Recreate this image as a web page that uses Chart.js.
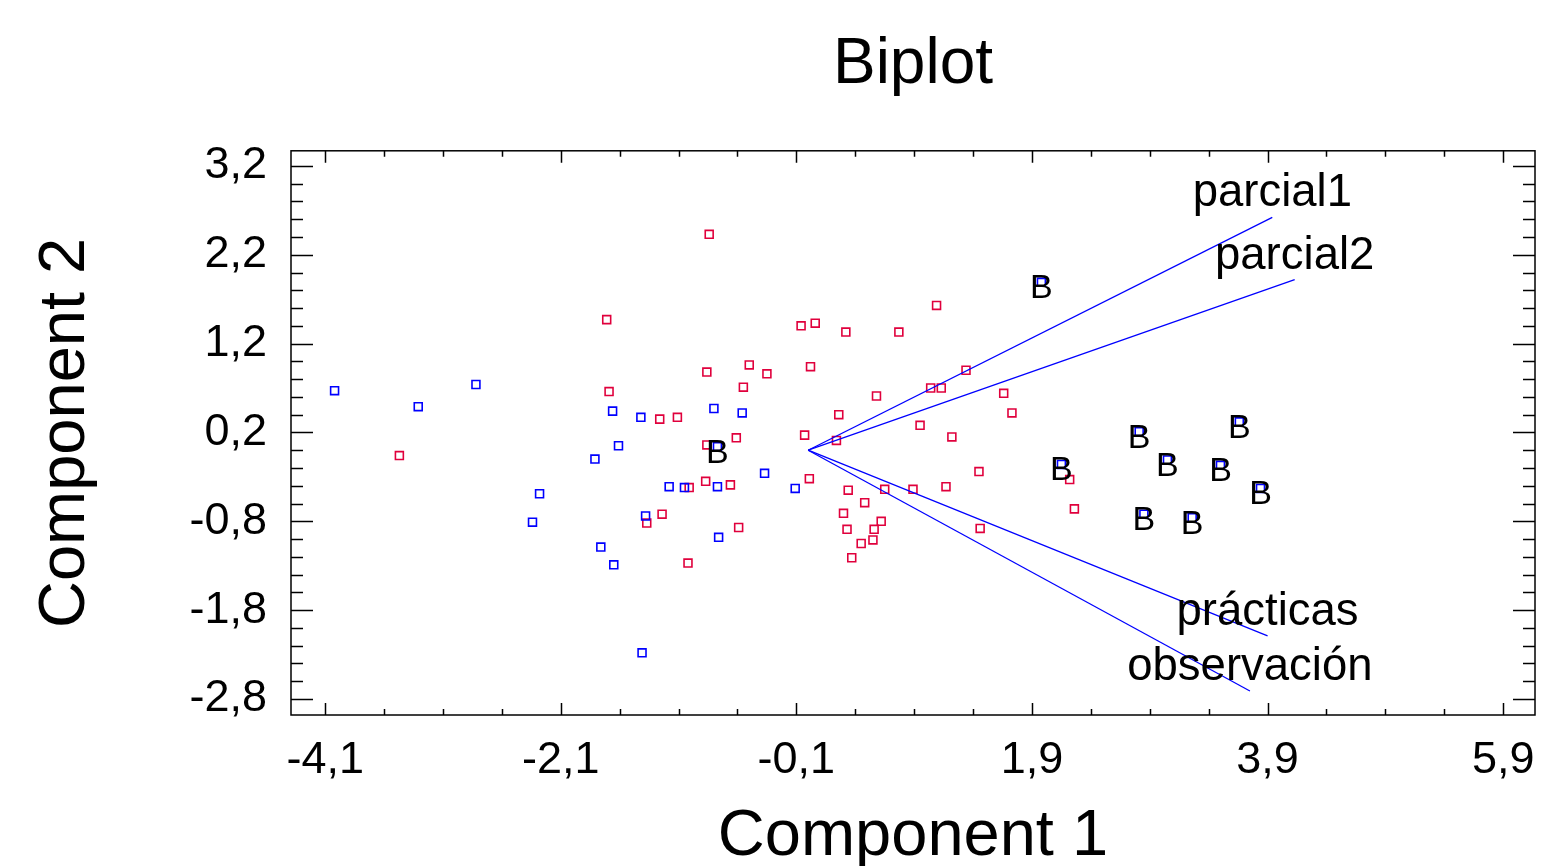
<!DOCTYPE html>
<html>
<head>
<meta charset="utf-8">
<title>Biplot</title>
<script src="https://cdn.jsdelivr.net/npm/chart.js@4.4.0/dist/chart.umd.min.js"></script>
<style>
  html, body { margin: 0; padding: 0; background: #fff; }
  #wrap { width: 1554px; height: 866px; }
</style>
</head>
<body>
<div id="wrap"><canvas id="biplot"></canvas></div>
<script>
// scores (component 1, component 2)
const blueX = [-4.02, -3.31, -2.82, -2.28, -2.34, -1.81, -1.76, -1.65, -1.66, -1.61, -1.42,
  -1.38, -1.41, -1.18, -1.05, -0.80, -0.77, -0.76, -0.56, -0.37, -0.11, -0.77,
  1.98, 2.81, 3.66, 2.15, 3.05, 3.50, 3.84, 2.85, 3.26];
const blueY = [0.67, 0.49, 0.74, -0.49, -0.81, -0.10, -1.09, -1.29, 0.44, 0.05, 0.37,
  -0.74, -2.28, -0.41, -0.42, 0.47, -0.41, -0.98, 0.42, -0.26, -0.43, 0.04,
  1.89, 0.21, 0.32, -0.16, -0.11, -0.17, -0.43, -0.72, -0.76];
const blueTag = ["", "", "", "", "", "", "", "", "", "", "",
  "", "", "", "", "", "", "", "", "", "", "B",
  "B", "B", "B", "B", "B", "B", "B", "B", "B"];

const redX = [-3.47, -1.71, -1.69, -1.26, -1.11, -0.84, -0.86, -0.50, -0.55, -0.35, -0.61,
  -0.86, -0.87, -0.66, -1.01, -1.24, -1.37, -0.59, -1.02, -0.06, 0.06, 0.32,
  0.77, 1.09, 0.02, 1.34, 1.04, 1.13, 0.58, 1.66, 1.73, 0.26, 0.95,
  -0.03, 0.24, 1.22, 0.01, 1.45, 0.34, 0.65, 0.89, 1.17, 0.48, 0.30,
  0.62, 0.33, 0.56, 1.46, 0.55, 0.45, 0.37, 2.22, 2.26];
const redY = [-0.06, 1.47, 0.66, 0.35, 0.37, 2.43, 0.88, 0.96, 0.71, 0.86, 0.14,
  0.06, -0.35, -0.39, -0.42, -0.72, -0.82, -0.87, -1.27, 1.40, 1.43, 1.33,
  1.33, 1.63, 0.94, 0.90, 0.70, 0.70, 0.61, 0.64, 0.42, 0.40, 0.28,
  0.17, 0.11, 0.15, -0.32, -0.24, -0.45, -0.44, -0.44, -0.41, -0.59, -0.71,
  -0.80, -0.89, -0.89, -0.88, -1.01, -1.05, -1.21, -0.33, -0.66];

const vectorNames = ["parcial1", "parcial2", "prácticas", "observación"];
const vectorX = [3.94, 4.13, 3.90, 3.75];
const vectorY = [2.62, 1.92, -2.09, -2.71];

const xTickLabels = [-4.1, -2.1, -0.1, 1.9, 3.9, 5.9];
const yTickLabels = [-2.8, -1.8, -0.8, 0.2, 1.2, 2.2, 3.2];
const xMinorStep = 0.5;
const yMinorStep = 0.2;

const FONT = "'Liberation Sans', Arial, sans-serif";
const BLUE = "#0000ff";
const RED = "#e0003c";

const fmt = (v) => (Math.round(v * 10) / 10).toFixed(1).replace(".", ",");

// ticks inside the frame, on all four sides, plus the text marks
const frameAndLabels = {
  id: "frameAndLabels",
  afterDatasetsDraw(chart) {
    const { ctx, chartArea: a, scales } = chart;
    const sx = scales.x, sy = scales.y;
    ctx.save();
    ctx.strokeStyle = "#000";
    ctx.lineWidth = 1.5;
    ctx.strokeRect(a.left, a.top, a.right - a.left, a.bottom - a.top);

    ctx.beginPath();
    const xEvery = Math.round((xTickLabels[1] - xTickLabels[0]) / xMinorStep);
    for (let i = -20; i < 200; i++) {
      const v = xTickLabels[0] + i * xMinorStep;
      if (v < sx.min || v > sx.max) continue;
      const px = Math.round(sx.getPixelForValue(v)) + 0.5;
      const len = (i % xEvery === 0) ? 12 : 6;
      ctx.moveTo(px, a.bottom); ctx.lineTo(px, a.bottom - len);
      ctx.moveTo(px, a.top); ctx.lineTo(px, a.top + len);
    }
    const yEvery = Math.round((yTickLabels[1] - yTickLabels[0]) / yMinorStep);
    for (let i = -20; i < 200; i++) {
      const v = yTickLabels[0] + i * yMinorStep;
      if (v < sy.min || v > sy.max) continue;
      const py = Math.round(sy.getPixelForValue(v)) + 0.5;
      const len = (i % yEvery === 0) ? 22 : 12;
      ctx.moveTo(a.left, py); ctx.lineTo(a.left + len, py);
      ctx.moveTo(a.right, py); ctx.lineTo(a.right - len, py);
    }
    ctx.stroke();

    ctx.fillStyle = "#000";
    ctx.textAlign = "center";
    ctx.textBaseline = "alphabetic";
    ctx.font = "34px " + FONT;
    blueX.forEach((bx, i) => {
      if (!blueTag[i]) return;
      ctx.fillText(blueTag[i], sx.getPixelForValue(bx), sy.getPixelForValue(blueY[i]) + 16);
    });

    ctx.font = "45.5px " + FONT;
    vectorNames.forEach((name, i) => {
      ctx.fillText(name, sx.getPixelForValue(vectorX[i]), sy.getPixelForValue(vectorY[i]) - 11);
    });
    ctx.restore();
  }
};

const vectorSets = vectorNames.map((name, i) => ({
  label: name,
  data: [{ x: 0, y: 0 }, { x: vectorX[i], y: vectorY[i] }],
  showLine: true,
  borderColor: BLUE,
  borderWidth: 1.3,
  pointRadius: 0,
  pointHoverRadius: 0
}));

const pointStyle = (color) => ({
  pointStyle: "rect",
  pointRadius: 5.6,
  pointHoverRadius: 5.6,
  borderWidth: 1.6,
  borderColor: color,
  backgroundColor: "rgba(0,0,0,0)"
});

new Chart(document.getElementById("biplot"), {
  type: "scatter",
  data: {
    datasets: [
      ...vectorSets,
      { label: "A", data: blueX.map((x, i) => ({ x, y: blueY[i] })), ...pointStyle(BLUE) },
      { label: "B", data: redX.map((x, i) => ({ x, y: redY[i] })), ...pointStyle(RED) }
    ]
  },
  options: {
    responsive: true,
    maintainAspectRatio: false,
    animation: false,
    devicePixelRatio: 1,
    layout: { padding: { left: 0, right: 19, top: 0, bottom: 0 } },
    plugins: {
      legend: { display: false },
      tooltip: { enabled: false },
      title: {
        display: true,
        text: "Biplot",
        fullSize: false,
        color: "#000",
        font: { family: FONT, size: 64, weight: "normal" },
        padding: { top: 27, bottom: 47 }
      }
    },
    scales: {
      x: {
        type: "linear",
        min: -4.39,
        max: 6.17,
        afterBuildTicks: (s) => { s.ticks = xTickLabels.map((v) => ({ value: v })); },
        afterFit: (s) => { s.height = 151; },
        grid: { display: false, drawTicks: false },
        border: { display: false },
        ticks: {
          color: "#000",
          font: { family: FONT, size: 45 },
          padding: 19,
          autoSkip: false,
          maxRotation: 0,
          callback: (v) => fmt(v)
        },
        title: {
          display: true,
          text: "Component 1",
          color: "#000",
          font: { family: FONT, size: 65, lineHeight: 0.9 },
          padding: { top: 0, bottom: 0 }
        }
      },
      y: {
        type: "linear",
        min: -2.98,
        max: 3.37,
        afterBuildTicks: (s) => { s.ticks = yTickLabels.map((v) => ({ value: v })); },
        afterFit: (s) => { s.width = 291; },
        grid: { display: false, drawTicks: false },
        border: { display: false },
        ticks: {
          color: "#000",
          font: { family: FONT, size: 45 },
          padding: 24,
          autoSkip: false,
          callback: (v) => fmt(v)
        },
        title: {
          display: true,
          text: "Component 2",
          color: "#000",
          font: { family: FONT, size: 65, lineHeight: 0.9 },
          padding: { top: 37, bottom: 0 }
        }
      }
    }
  },
  plugins: [frameAndLabels]
});
</script>
</body>
</html>
